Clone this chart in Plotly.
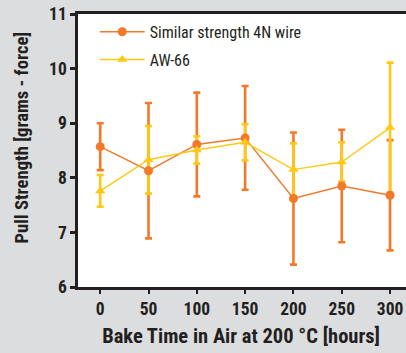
import plotly.graph_objects as go

bake_hours = [0, 50, 100, 150, 200, 250, 300]
x_tick_labels = ["0", "50", "100", "150", "200", "250", "300"]

similar_4n_mean = [8.57, 8.13, 8.61, 8.73, 7.62, 7.85, 7.68]
similar_4n_err = [0.43, 1.24, 0.95, 0.95, 1.21, 1.03, 1.01]

aw66_mean = [7.76, 8.33, 8.51, 8.65, 8.15, 8.29, 8.92]
aw66_err = [0.29, 0.62, 0.25, 0.33, 0.48, 0.36, 1.19]

y_ticks = [6, 7, 8, 9, 10, 11]

x_title = "Bake Time in Air at 200 °C [hours]"
y_title = "Pull Strength [grams - force]"

ORANGE = "#F2782A"
YELLOW = "#FFC814"
INK = "#231F20"
BG = "#DCDDDF"
FONT = "Roboto, sans-serif"

fig = go.Figure()
# error bars first (so markers sit above them)
for mean, err, col in [(similar_4n_mean, similar_4n_err, ORANGE),
                       (aw66_mean, aw66_err, YELLOW)]:
    fig.add_trace(go.Scatter(
        x=bake_hours, y=mean, mode="markers", showlegend=False, hoverinfo="skip",
        marker=dict(size=1, color="rgba(0,0,0,0)"),
        error_y=dict(type="data", array=err, visible=True,
                     color=col, thickness=2.6, width=3.5),
    ))
fig.add_trace(go.Scatter(
    x=bake_hours, y=similar_4n_mean, name="Similar strength 4N wire",
    mode="lines+markers", legendgroup="a",
    line=dict(color=ORANGE, width=1.4),
    marker=dict(symbol="circle", size=9, color=ORANGE),
))
fig.add_trace(go.Scatter(
    x=bake_hours, y=aw66_mean, name="AW-66",
    mode="lines+markers", legendgroup="b",
    line=dict(color=YELLOW, width=1.4),
    marker=dict(symbol="triangle-up", size=9, color=YELLOW),
))

fig.add_annotation(text=x_title, xref="paper", yref="paper",
                   x=(241 - 78) / 328, y=(287 - 336) / 273,
                   xanchor="center", yanchor="middle", showarrow=False,
                   font=dict(family=FONT, size=20.5, color=INK, weight="bold"))
fig.add_annotation(text=y_title, xref="paper", yref="paper", textangle=-90,
                   x=(22 - 78) / 328, y=(287 - 138) / 273,
                   xanchor="center", yanchor="middle", showarrow=False,
                   font=dict(family=FONT, size=18.6, color=INK, weight="bold"))

fig.update_layout(
    width=406, height=353,
    margin=dict(l=78, r=0, t=14, b=66),
    paper_bgcolor=BG,
    plot_bgcolor="white",
    font=dict(family=FONT, color=INK),
    showlegend=True,
    legend=dict(
        x=0.051, y=0.997, xanchor="left", yanchor="top",
        bgcolor="rgba(0,0,0,0)", traceorder="grouped",
        font=dict(family=FONT, size=16, color=INK),
        tracegroupgap=4, itemwidth=45,
    ),
    xaxis=dict(
        range=[-23, 316.5],
        tickmode="array", tickvals=bake_hours, ticktext=x_tick_labels,
        showgrid=False, zeroline=False,
        showline=True, linecolor=INK, linewidth=2.5, mirror=True,
        ticks="outside", ticklen=4, tickwidth=2, tickcolor=INK,
        tickfont=dict(family=FONT, size=17.5, color=INK, weight="bold"),
    ),
    yaxis=dict(
        range=[6, 11],
        tickmode="array", tickvals=y_ticks,
        showgrid=False, zeroline=False,
        showline=True, linecolor=INK, linewidth=2.5,
        ticks="outside", ticklen=5, tickwidth=2.5, tickcolor=INK,
        tickfont=dict(family=FONT, size=17.5, color=INK, weight="bold"),
    ),
)

post = (
    "document.body.style.margin='0';"
    "document.body.style.background='%s';"
    "document.querySelectorAll('.main-svg text').forEach(function(t){t.style.fontStretch='condensed';});"
) % BG

fig.write_html("out.html", config={"displayModeBar": False}, post_script=post)
